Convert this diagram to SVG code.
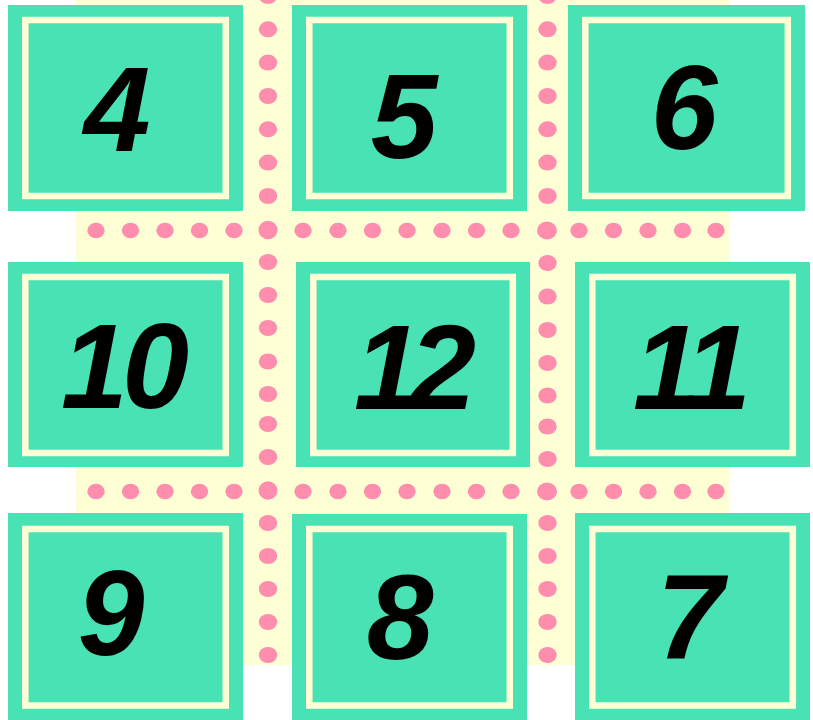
<svg xmlns="http://www.w3.org/2000/svg" width="813" height="720" viewBox="0 0 813 720">
<style>
.tile{fill:#49E2B5}
.frame{fill:none;stroke:#FFFFD6;stroke-width:6.5}
.num{font-family:"Liberation Sans",Arial,sans-serif;font-weight:bold;font-style:italic;font-size:120px;fill:#000;text-anchor:middle}
.dot{fill:#FF8DAD}
</style>
<rect width="813" height="720" fill="#FFFFFF"/>
<rect x="76" y="0" width="653" height="665" fill="#FFFFD6"/>
<g id="dots">
<g id="col1">
<ellipse class="dot" cx="268" cy="-4" rx="9.2" ry="8"/>
<ellipse class="dot" cx="268" cy="29.3" rx="9.2" ry="8"/>
<ellipse class="dot" cx="268" cy="62.6" rx="9.2" ry="8"/>
<ellipse class="dot" cx="268" cy="96" rx="9.2" ry="8"/>
<ellipse class="dot" cx="268" cy="129.3" rx="9.2" ry="8"/>
<ellipse class="dot" cx="268" cy="162.6" rx="9.2" ry="8"/>
<ellipse class="dot" cx="268" cy="196" rx="9.2" ry="8"/>
<ellipse class="dot" cx="268" cy="262" rx="9.2" ry="8"/>
<ellipse class="dot" cx="268" cy="295" rx="9.2" ry="8"/>
<ellipse class="dot" cx="268" cy="328" rx="9.2" ry="8"/>
<ellipse class="dot" cx="268" cy="361.5" rx="9.2" ry="8"/>
<ellipse class="dot" cx="268" cy="394" rx="9.2" ry="8"/>
<ellipse class="dot" cx="268" cy="424" rx="9.2" ry="8"/>
<ellipse class="dot" cx="268" cy="457" rx="9.2" ry="8"/>
<ellipse class="dot" cx="268" cy="523" rx="9.2" ry="8"/>
<ellipse class="dot" cx="268" cy="556" rx="9.2" ry="8"/>
<ellipse class="dot" cx="268" cy="589" rx="9.2" ry="8"/>
<ellipse class="dot" cx="268" cy="622" rx="9.2" ry="8"/>
<ellipse class="dot" cx="268" cy="655" rx="9.2" ry="8"/>
</g>
<g id="col2">
<ellipse class="dot" cx="547.5" cy="-4" rx="9.2" ry="8"/>
<ellipse class="dot" cx="547.5" cy="29.3" rx="9.2" ry="8"/>
<ellipse class="dot" cx="547.5" cy="62.6" rx="9.2" ry="8"/>
<ellipse class="dot" cx="547.5" cy="96" rx="9.2" ry="8"/>
<ellipse class="dot" cx="547.5" cy="129.3" rx="9.2" ry="8"/>
<ellipse class="dot" cx="547.5" cy="162.6" rx="9.2" ry="8"/>
<ellipse class="dot" cx="547.5" cy="196" rx="9.2" ry="8"/>
<ellipse class="dot" cx="547.5" cy="263" rx="9.2" ry="8"/>
<ellipse class="dot" cx="547.5" cy="296.5" rx="9.2" ry="8"/>
<ellipse class="dot" cx="547.5" cy="330" rx="9.2" ry="8"/>
<ellipse class="dot" cx="547.5" cy="363" rx="9.2" ry="8"/>
<ellipse class="dot" cx="547.5" cy="395.5" rx="9.2" ry="8"/>
<ellipse class="dot" cx="547.5" cy="426.5" rx="9.2" ry="8"/>
<ellipse class="dot" cx="547.5" cy="459" rx="9.2" ry="8"/>
<ellipse class="dot" cx="547.5" cy="523" rx="9.2" ry="8"/>
<ellipse class="dot" cx="547.5" cy="556" rx="9.2" ry="8"/>
<ellipse class="dot" cx="547.5" cy="589" rx="9.2" ry="8"/>
<ellipse class="dot" cx="547.5" cy="622" rx="9.2" ry="8"/>
<ellipse class="dot" cx="547.5" cy="655" rx="9.2" ry="8"/>
</g>
<g id="row1">
<ellipse class="dot" cx="96" cy="230.5" rx="8.7" ry="7.7"/>
<ellipse class="dot" cx="130.5" cy="230.5" rx="8.7" ry="7.7"/>
<ellipse class="dot" cx="165" cy="230.5" rx="8.7" ry="7.7"/>
<ellipse class="dot" cx="199.5" cy="230.5" rx="8.7" ry="7.7"/>
<ellipse class="dot" cx="234" cy="230.5" rx="8.7" ry="7.7"/>
<ellipse class="dot" cx="268" cy="230" rx="9.5" ry="9.3"/>
<ellipse class="dot" cx="303" cy="230.5" rx="8.7" ry="7.7"/>
<ellipse class="dot" cx="338" cy="230.5" rx="8.7" ry="7.7"/>
<ellipse class="dot" cx="372.5" cy="230.5" rx="8.7" ry="7.7"/>
<ellipse class="dot" cx="407" cy="230.5" rx="8.7" ry="7.7"/>
<ellipse class="dot" cx="442" cy="230.5" rx="8.7" ry="7.7"/>
<ellipse class="dot" cx="476.5" cy="230.5" rx="8.7" ry="7.7"/>
<ellipse class="dot" cx="511" cy="230.5" rx="8.7" ry="7.7"/>
<ellipse class="dot" cx="547" cy="230.5" rx="10" ry="9"/>
<ellipse class="dot" cx="579" cy="230.5" rx="8.7" ry="7.7"/>
<ellipse class="dot" cx="613.5" cy="230.5" rx="8.7" ry="7.7"/>
<ellipse class="dot" cx="648" cy="230.5" rx="8.7" ry="7.7"/>
<ellipse class="dot" cx="682.5" cy="230.5" rx="8.7" ry="7.7"/>
<ellipse class="dot" cx="716" cy="230.5" rx="8.7" ry="7.7"/>
</g>
<g id="row2">
<ellipse class="dot" cx="96" cy="491.5" rx="8.7" ry="7.7"/>
<ellipse class="dot" cx="130.5" cy="491.5" rx="8.7" ry="7.7"/>
<ellipse class="dot" cx="165" cy="491.5" rx="8.7" ry="7.7"/>
<ellipse class="dot" cx="199.5" cy="491.5" rx="8.7" ry="7.7"/>
<ellipse class="dot" cx="234" cy="491.5" rx="8.7" ry="7.7"/>
<ellipse class="dot" cx="268" cy="490.5" rx="9.5" ry="9.3"/>
<ellipse class="dot" cx="303" cy="491.5" rx="8.7" ry="7.7"/>
<ellipse class="dot" cx="338" cy="491.5" rx="8.7" ry="7.7"/>
<ellipse class="dot" cx="372.5" cy="491.5" rx="8.7" ry="7.7"/>
<ellipse class="dot" cx="407" cy="491.5" rx="8.7" ry="7.7"/>
<ellipse class="dot" cx="442" cy="491.5" rx="8.7" ry="7.7"/>
<ellipse class="dot" cx="476.5" cy="491.5" rx="8.7" ry="7.7"/>
<ellipse class="dot" cx="511" cy="491.5" rx="8.7" ry="7.7"/>
<ellipse class="dot" cx="547" cy="491.5" rx="10" ry="9"/>
<ellipse class="dot" cx="579" cy="491.5" rx="8.7" ry="7.7"/>
<ellipse class="dot" cx="613.5" cy="491.5" rx="8.7" ry="7.7"/>
<ellipse class="dot" cx="648" cy="491.5" rx="8.7" ry="7.7"/>
<ellipse class="dot" cx="682.5" cy="491.5" rx="8.7" ry="7.7"/>
<ellipse class="dot" cx="716" cy="491.5" rx="8.7" ry="7.7"/>
</g>
</g>
<g id="connectors"></g>
<g id="tile-4">
<rect class="tile" x="8" y="5" width="235" height="206"/>
<rect class="frame" x="25.3" y="20" width="200.5" height="176"/>
<text class="num" x="117" y="151">4</text>
</g>
<g id="tile-5">
<rect class="tile" x="292" y="5" width="235" height="206"/>
<rect class="frame" x="309.3" y="20" width="200.5" height="176"/>
<text class="num" x="404" y="158">5</text>
</g>
<g id="tile-6">
<rect class="tile" x="568" y="5" width="237" height="206"/>
<rect class="frame" x="585.3" y="20" width="202.5" height="176"/>
<text class="num" x="684" y="149">6</text>
</g>
<g id="tile-10">
<rect class="tile" x="8" y="262" width="235" height="205"/>
<rect class="frame" x="25.3" y="277" width="200.5" height="176"/>
<text class="num" x="125" y="408" textLength="128" lengthAdjust="spacing">10</text>
</g>
<g id="tile-12">
<rect class="tile" x="296" y="262" width="234" height="205"/>
<rect class="frame" x="313.3" y="277" width="199.5" height="176"/>
<text class="num" x="415" y="409" textLength="122" lengthAdjust="spacing">12</text>
</g>
<g id="tile-11">
<rect class="tile" x="575" y="262" width="235" height="205"/>
<rect class="frame" x="592.3" y="277" width="200.5" height="176"/>
<text class="num" x="692" y="409" textLength="118" lengthAdjust="spacing">11</text>
</g>
<g id="tile-9">
<rect class="tile" x="8" y="513" width="235" height="207"/>
<rect class="frame" x="25.3" y="529" width="200.5" height="176.5"/>
<text class="num" x="111" y="655">9</text>
</g>
<g id="tile-8">
<rect class="tile" x="292" y="514" width="235" height="206"/>
<rect class="frame" x="309.3" y="529" width="200.5" height="176.5"/>
<text class="num" x="400" y="659">8</text>
</g>
<g id="tile-7">
<rect class="tile" x="575" y="513" width="235" height="207"/>
<rect class="frame" x="592.3" y="529" width="200.5" height="176.5"/>
<text class="num" x="690" y="658">7</text>
</g>
</svg>
